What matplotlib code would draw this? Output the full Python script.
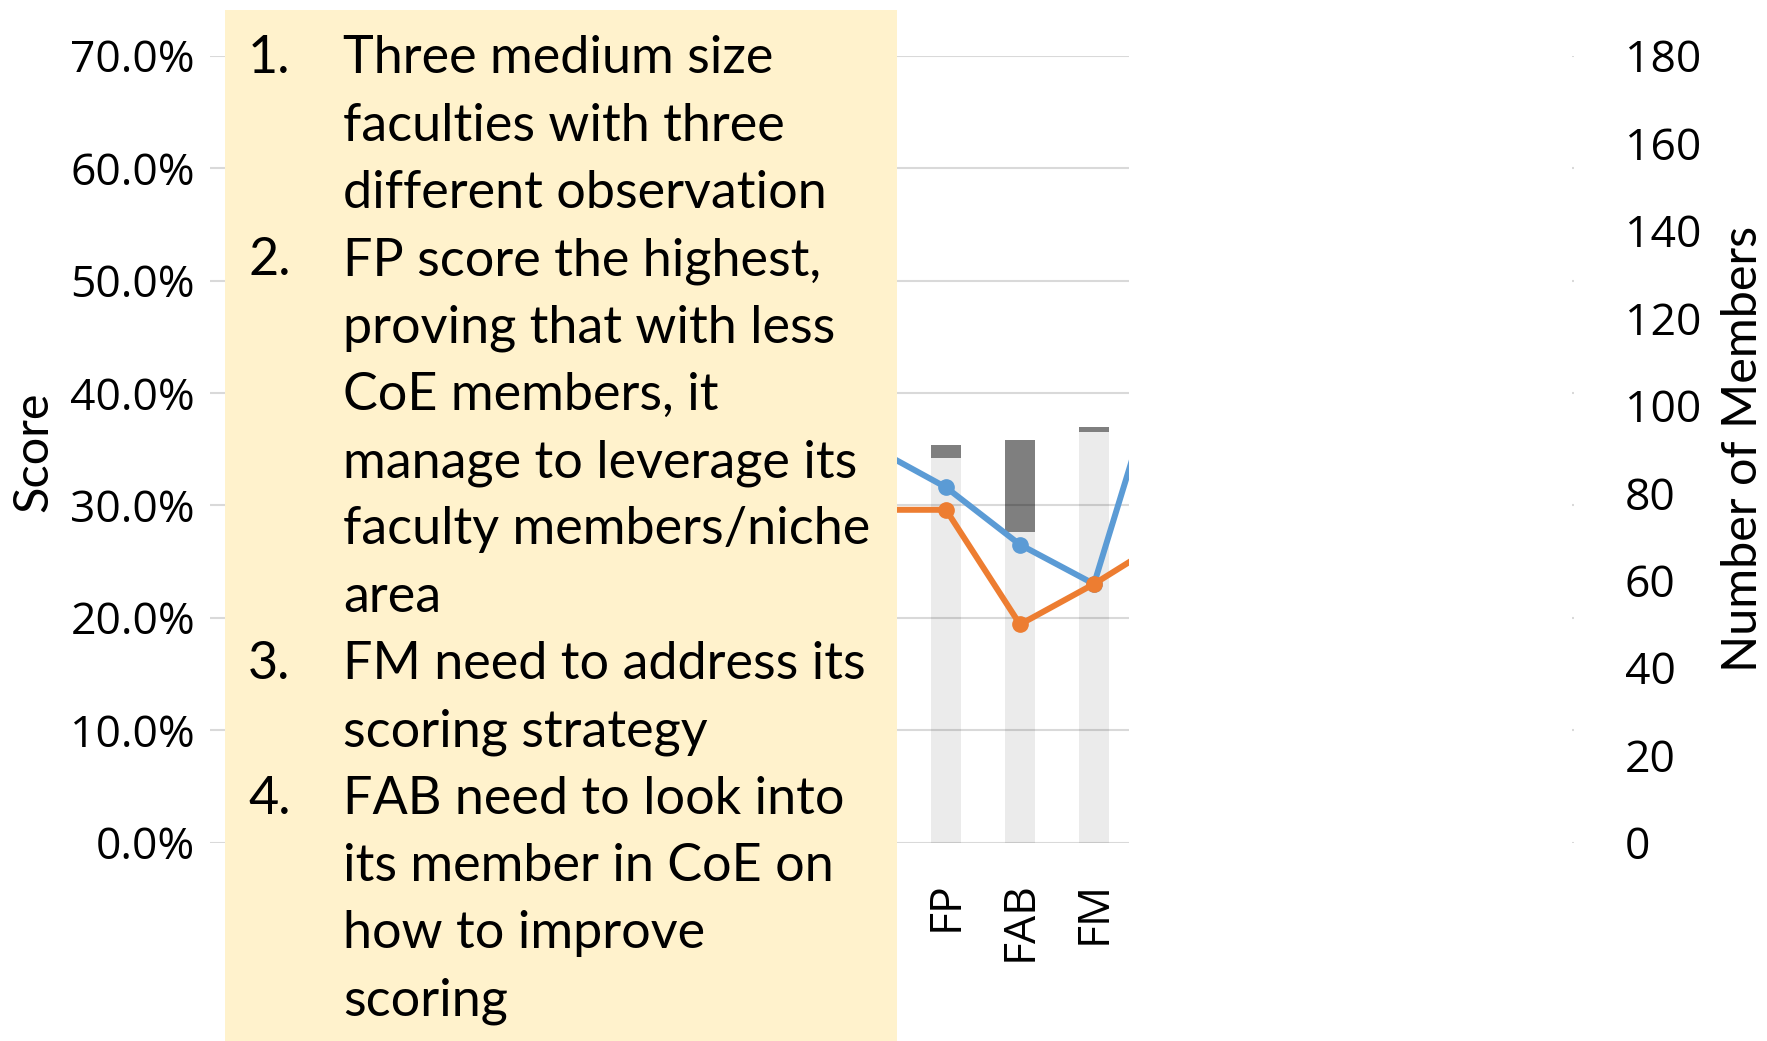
import numpy as np
import matplotlib
matplotlib.use('Agg')
import matplotlib.pyplot as plt
from matplotlib.patches import Rectangle
from matplotlib.ticker import PercentFormatter

plt.rcParams['font.family'] = ['Open Sans', 'DejaVu Sans']

# faculties (outer two are cut off by the note box / white box in the original)
faculties = ["", "FP", "FAB", "FM", ""]
score_a = [0.352, 0.316, 0.265, 0.230, 0.445]   # blue line
score_b = [0.296, 0.296, 0.194, 0.230, 0.271]   # orange line
members_other = [np.nan, 88, 71, 94, np.nan]     # light bars
members_coe = [np.nan, 3, 21, 1, np.nan]         # dark bars, stacked on top

score_ticks = [0, 0.1, 0.2, 0.3, 0.4, 0.5, 0.6, 0.7]
member_ticks = list(range(0, 181, 20))

notes = [
    ["Three medium size", "faculties with three", "different observation"],
    ["FP score the highest,", "proving that with less", "CoE members, it",
     "manage to leverage its", "faculty members/niche", "area"],
    ["FM need to address its", "scoring strategy"],
    ["FAB need to look into", "its member in CoE on", "how to improve", "scoring"],
]

W, H = 1767, 1041
fig = plt.figure(figsize=(W / 100, H / 100), dpi=100)


def fx(px):
    return px / W


def fy(py):
    return 1 - py / H


left, right, top, bottom = 210, 1574, 55.7, 842.5
ax = fig.add_axes([fx(left), fy(bottom), fx(right) - fx(left), fy(top) - fy(bottom)])
ax2 = ax.twinx()
ax.set_zorder(2)
ax2.set_zorder(1)
ax.patch.set_visible(False)

x = np.arange(len(faculties))
ax2.bar(x, members_other, width=0.4, color='#EBEBEB')
ax2.bar(x, members_coe, bottom=members_other, width=0.4, color='#7F7F7F')

ax.plot(x, score_a, color='#5B9BD5', lw=4.3, marker='o', ms=11, zorder=3)
ax.plot(x, score_b, color='#ED7D31', lw=4.3, marker='o', ms=11, zorder=4)

spacing = 74.0
ax.set_xlim(1 - (946 - left) / spacing, 1 + (right - 946) / spacing)
ax.set_ylim(0, 0.7)
ax.set_yticks(score_ticks)
ax.yaxis.set_major_formatter(PercentFormatter(1, decimals=1))
ax2.set_ylim(0, 180)
ax2.set_yticks(member_ticks)

ax.set_xticks(x)
ax.set_xticklabels(faculties, rotation=90, ha='center', va='top')

# translucent grid so it shows darker through the bars, like the original
ax.grid(axis='y', color='black', alpha=0.15, lw=1.5)
ax.set_axisbelow(True)
for a in (ax, ax2):
    for s in a.spines.values():
        s.set_visible(False)
ax.tick_params(axis='y', length=0, pad=10.8, labelsize=32, labelcolor='black')
ax.tick_params(axis='x', length=0, pad=27.7, labelsize=32, labelcolor='black')
ax2.tick_params(axis='y', length=0, pad=36.7, labelsize=32, labelcolor='black')

fig.text(fx(33), fy(452), 'Score', rotation=90, ha='center', va='center',
         fontsize=35, family='Lato')
fig.text(fx(1743), fy(449), 'Number of Members', rotation=90, ha='center',
         va='center', fontsize=35, family='Lato')

# note box over the left part of the chart
fig.add_artist(Rectangle((fx(225), fy(1041)), fx(897) - fx(225), fy(10) - fy(1041),
                         transform=fig.transFigure, facecolor='#FFF2CC',
                         edgecolor='none', zorder=10))
# blank box over the right part of the chart
fig.add_artist(Rectangle((fx(1129), 0), fx(1572) - fx(1129), 1,
                         transform=fig.transFigure, facecolor='white',
                         edgecolor='none', zorder=10))

row = 0
for i, item in enumerate(notes):
    for j, line in enumerate(item):
        yb = fy(73.3 + row * 67.3)
        if j == 0:
            fig.text(fx(248), yb, f"{i + 1}.", va='baseline', ha='left',
                     fontsize=37.5, family='Lato', zorder=11)
        fig.text(fx(343), yb, line, va='baseline', ha='left',
                 fontsize=37.5, family='Lato', zorder=11)
        row += 1

fig.savefig('out.png', dpi=100)
